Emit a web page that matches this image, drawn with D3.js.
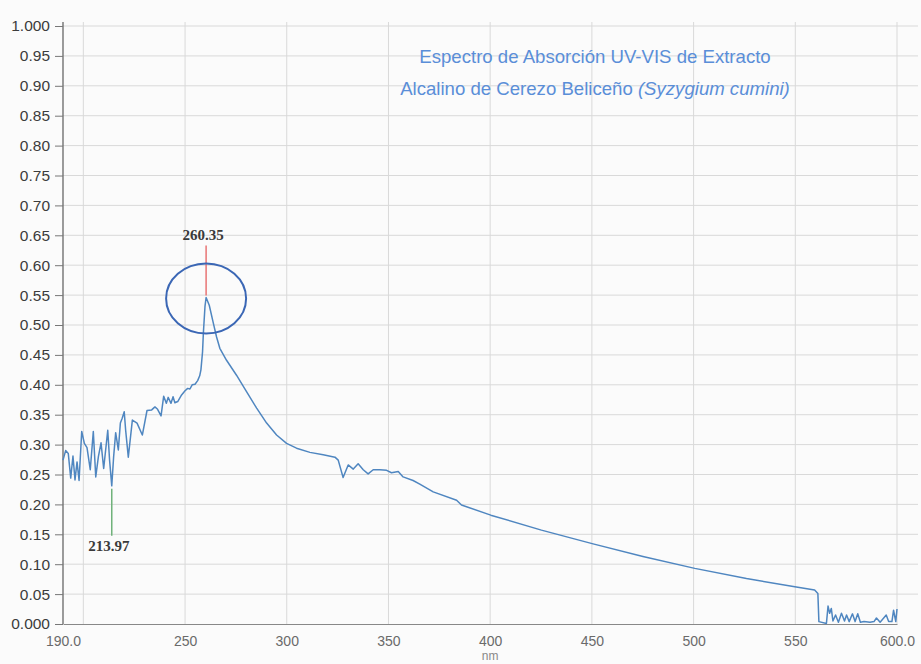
<!DOCTYPE html>
<html>
<head>
<meta charset="utf-8">
<script src="https://cdn.jsdelivr.net/npm/d3@7"></script>
<style>
  html, body { margin: 0; padding: 0; background: #fbfbfb; }
  svg { display: block; }
</style>
</head>
<body>
<div id="canvas"></div>
<script>
// global const
const width = 921, height = 664;
const plot = { left: 63, right: 897, top: 26, bottom: 624, gridRight: 918 };
const colors = { line: "#4f86c0", grid: "#d9d9d9", axis: "#666", title: "#5a8ed8", ellipse: "#3b67b5" };

// spectrum (nm, absorbance)
const wavelength = [
    190.0, 191.3, 192.6, 193.8, 194.9, 195.9, 196.9, 197.9, 199.2, 200.5,
    201.8, 203.4, 204.9, 206.1, 207.4, 208.7, 210.0, 212.0, 212.9, 213.97,
    214.9, 215.9, 217.2, 218.2, 219.1, 220.1, 220.8, 222.1, 224.1, 226.4,
    229.0, 231.3, 233.6, 235.2, 236.5, 238.2, 239.5, 240.8, 241.7, 243.1,
    244.1, 245.0, 246.4, 248.3, 250.0, 251.3, 252.4, 253.5, 254.9, 256.2,
    257.2, 257.8, 258.2, 258.6, 259.0, 259.8, 260.35, 261.9, 263.9, 265.5,
    267.1, 270.4, 275.3, 280.3, 285.2, 290.1, 295.0, 299.9, 304.8, 311.4,
    317.9, 323.7, 325.3, 327.7, 330.2, 332.7, 335.1, 337.6, 340.0, 342.5,
    345.8, 349.1, 351.5, 354.8, 357.2, 362.1, 365.4, 372.0, 383.5, 385.9,
    400.3, 425.2, 450.6, 475.1, 500.6, 526.0, 550.5, 559.5, 561.1, 561.6,
    565.3, 566.1, 566.9, 567.7, 568.5, 569.8, 571.2, 572.7, 574.2, 575.2,
    576.5, 578.1, 579.4, 580.7, 582.0, 583.8, 586.7, 588.7, 589.9, 591.7,
    594.7, 595.9, 597.5, 598.3, 599.4, 600.0
];
const absorbance = [
    0.274, 0.290, 0.285, 0.244, 0.281, 0.241, 0.271, 0.240, 0.322, 0.302,
    0.295, 0.258, 0.322, 0.246, 0.280, 0.303, 0.260, 0.324, 0.274, 0.231,
    0.280, 0.320, 0.291, 0.336, 0.344, 0.355, 0.324, 0.279, 0.341, 0.336,
    0.316, 0.357, 0.358, 0.363, 0.359, 0.348, 0.381, 0.369, 0.379, 0.369,
    0.380, 0.370, 0.372, 0.383, 0.390, 0.394, 0.393, 0.400, 0.401, 0.407,
    0.415, 0.425, 0.440, 0.455, 0.486, 0.531, 0.546, 0.533, 0.503, 0.480,
    0.461, 0.441, 0.416, 0.388, 0.361, 0.336, 0.316, 0.302, 0.294, 0.287,
    0.283, 0.279, 0.274, 0.245, 0.266, 0.259, 0.268, 0.258, 0.251, 0.258,
    0.258, 0.257, 0.253, 0.255, 0.246, 0.240, 0.234, 0.221, 0.207, 0.199,
    0.182, 0.157, 0.134, 0.113, 0.093, 0.076, 0.062, 0.057, 0.051, 0.004,
    0.001, 0.030, 0.018, 0.026, 0.005, 0.015, 0.003, 0.018, 0.005, 0.015,
    0.004, 0.017, 0.004, 0.017, 0.003, 0.004, 0.003, 0.004, 0.010, 0.003,
    0.015, 0.004, 0.004, 0.023, 0.004, 0.025
];

// axis ticks and gridlines
const yTicks = [0, 0.05, 0.10, 0.15, 0.20, 0.25, 0.30, 0.35, 0.40, 0.45, 0.50,
                0.55, 0.60, 0.65, 0.70, 0.75, 0.80, 0.85, 0.90, 0.95, 1.0];
const xTicks = [190, 250, 300, 350, 400, 450, 500, 550, 600];
const xGrid = [200, 250, 300, 350, 400, 450, 500, 550, 600];

// peak markers (peak above the curve, valley below)
const markerNm = [260.35, 213.97];
const markerAbs = [0.546, 0.231];
const markerColor = ["#e87474", "#6fb27a"];

const titleLine1 = "Espectro de Absorción UV-VIS de Extracto";
const titleLine2 = "Alcalino de Cerezo Beliceño ";
const titleItalic = "(Syzygium cumini)";

var svg = d3.select("#canvas")
    .append("svg")
    .attr("width", width)
    .attr("height", height)
    .style("background-color", "#fbfbfb")

var xScale = d3.scaleLinear()
    .domain([190, 600])
    .range([plot.left, plot.right])

var yScale = d3.scaleLinear()
    .domain([0, 1])
    .range([plot.bottom, plot.top])

// grid
svg.append("g").selectAll("line")
    .data(yTicks.filter(d => d > 0))
    .join("line")
    .attr("x1", plot.left)
    .attr("x2", plot.gridRight)
    .attr("y1", d => yScale(d))
    .attr("y2", d => yScale(d))
    .attr("stroke", colors.grid)

svg.append("g").selectAll("line")
    .data(xGrid)
    .join("line")
    .attr("x1", d => xScale(d))
    .attr("x2", d => xScale(d))
    .attr("y1", plot.top - 4)
    .attr("y2", plot.bottom)
    .attr("stroke", colors.grid)

// axes
var yAxis = svg.append("g")
    .attr("transform", `translate(${plot.left},0)`)
    .call(d3.axisLeft(yScale)
        .tickValues(yTicks)
        .tickSizeInner(8)
        .tickSizeOuter(0)
        .tickPadding(5)
        .tickFormat(d => (d === 0 || d === 1) ? d.toFixed(3) : d.toFixed(2)))

yAxis.select(".domain").attr("stroke", colors.axis).attr("stroke-width", 1.3)
    .attr("d", `M0,${plot.top - 4}V${plot.bottom}`)
yAxis.selectAll(".tick line").attr("stroke", "#777")
yAxis.selectAll("text")
    .attr("font-family", "Liberation Sans, Arial, sans-serif")
    .attr("font-size", 15.5)
    .attr("fill", "#3c3c3c")

var xAxis = svg.append("g")
    .attr("transform", `translate(0,${plot.bottom})`)
    .call(d3.axisBottom(xScale)
        .tickValues(xTicks)
        .tickSize(0)
        .tickPadding(12)
        .tickFormat(d => (d === 190 || d === 600) ? d.toFixed(1) : d))

xAxis.select(".domain").attr("stroke", "#888").attr("stroke-width", 1.2)
xAxis.selectAll("text")
    .attr("font-family", "Liberation Sans, Arial, sans-serif")
    .attr("font-size", 14)
    .attr("fill", "#6a6a6a")

svg.append("text")
    .attr("x", xScale(400))
    .attr("y", 660)
    .attr("text-anchor", "middle")
    .attr("font-family", "Liberation Sans, Arial, sans-serif")
    .attr("font-size", 12)
    .attr("fill", "#888")
    .text("nm")

// spectrum
const points = wavelength.map((w, i) => [w, absorbance[i]])

svg.append("path")
    .datum(points)
    .attr("d", d3.line().x(d => xScale(d[0])).y(d => yScale(d[1])))
    .attr("fill", "none")
    .attr("stroke", colors.line)
    .attr("stroke-width", 1.5)
    .attr("stroke-linejoin", "round")

// markers: the peak gets a line up and label above, the valley a line down and label below
markerNm.forEach((nm, i) => {
    var x = xScale(nm)
    var y = yScale(markerAbs[i])
    var up = i === 0
    svg.append("line")
        .attr("x1", x)
        .attr("x2", x)
        .attr("y1", up ? y - 2 : y + 3)
        .attr("y2", up ? y - 52 : y + 50)
        .attr("stroke", markerColor[i])
        .attr("stroke-width", 1.5)
    svg.append("text")
        .attr("x", x - 3)
        .attr("y", up ? y - 57 : y + 65)
        .attr("text-anchor", "middle")
        .attr("font-family", "Liberation Serif, Times New Roman, serif")
        .attr("font-size", 15)
        .attr("font-weight", "bold")
        .attr("fill", "#3a3a3a")
        .text(nm.toFixed(2))
})

// circle drawn by hand round the peak
svg.append("ellipse")
    .attr("cx", xScale(markerNm[0]))
    .attr("cy", yScale(markerAbs[0]) + 1)
    .attr("rx", 40)
    .attr("ry", 35)
    .attr("fill", "none")
    .attr("stroke", colors.ellipse)
    .attr("stroke-width", 2)

// title
var title = svg.append("g")
    .attr("font-family", "Liberation Sans, Arial, sans-serif")
    .attr("font-size", 18.6)
    .attr("fill", colors.title)
    .attr("text-anchor", "middle")

title.append("text")
    .attr("x", 595)
    .attr("y", 63)
    .text(titleLine1)

var t2 = title.append("text")
    .attr("x", 595)
    .attr("y", 95)
t2.append("tspan").text(titleLine2)
t2.append("tspan").attr("font-style", "italic").text(titleItalic)
</script>
</body>
</html>
